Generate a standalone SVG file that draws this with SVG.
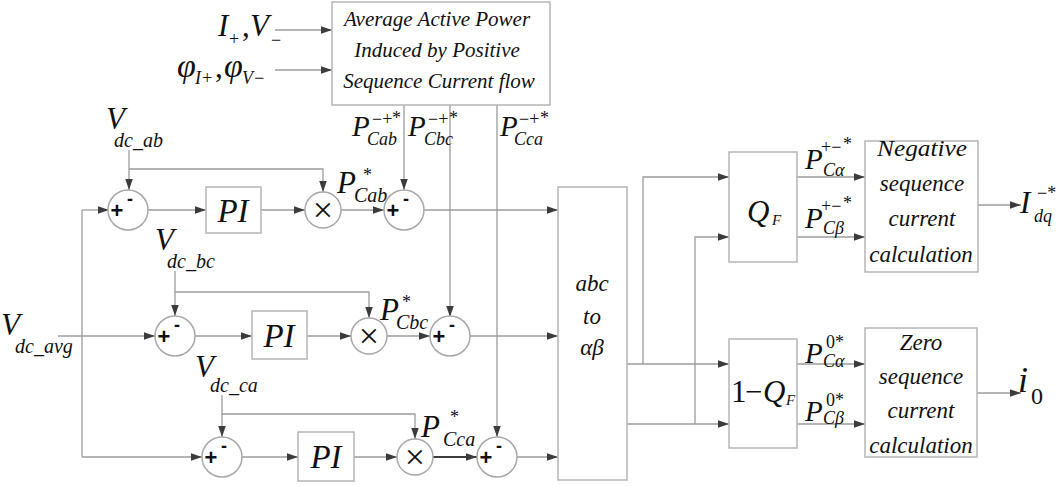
<svg xmlns="http://www.w3.org/2000/svg" width="1059" height="486" viewBox="0 0 1059 486">
<defs>
<marker id="ah" markerWidth="12" markerHeight="8" refX="11" refY="3.75" orient="auto" markerUnits="userSpaceOnUse"><path d="M0,0 L11,3.75 L0,7.5 z" fill="#3c3c3c"/></marker>
<style>
.ln{fill:none;stroke:#9c9c9c;stroke-width:1.3}
.ar{fill:none;stroke:#9c9c9c;stroke-width:1.3;marker-end:url(#ah)}
.thick{fill:none;stroke:#3c3c3c;stroke-width:2.2;marker-end:url(#ah)}
.bx{fill:#fff;stroke:#b5b5b5;stroke-width:1.5}
.cr{fill:#fff;stroke:#a8a8a8;stroke-width:1.5}
.m{font-family:"Liberation Serif",serif;font-style:italic;fill:#111}
.u{font-family:"Liberation Serif",serif;fill:#111}
.s{font-family:"Liberation Sans",sans-serif;fill:#111}
.big{font-size:31px}
.pi{font-size:33px}
.mid{font-size:29px}
.sub{font-size:20px}
.sm{font-size:18px}
.lab{font-size:21px}
.blab{font-size:23px}
.plus{font-family:"Liberation Sans",sans-serif;font-size:22px;font-weight:bold;fill:#111;text-anchor:middle}
.minus{font-family:"Liberation Sans",sans-serif;font-size:18px;font-weight:bold;fill:#111;text-anchor:middle}
.times{font-family:"Liberation Serif",serif;font-size:36px;fill:#111;text-anchor:middle}
.tm{text-anchor:middle}
</style>
</defs>

<g id="connectors">
<path class="ar" d="M275,30 H332"/>
<path class="ar" d="M275,70 H332"/>
<path class="ar" d="M404,105 V190"/>
<path class="ar" d="M450,105 V317"/>
<path class="ar" d="M497,105 V437"/>
<path class="ar" d="M82,210 H109"/>
<path class="ln" d="M82,210 V457"/>
<path class="ar" d="M82,457 H202"/>
<path class="ar" d="M58,336 H155"/>
<path class="ar" d="M129,150 V190"/>
<path class="ar" d="M129,169 H323 V192"/>
<path class="ar" d="M175,271 V316"/>
<path class="ar" d="M175,292 H369 V318"/>
<path class="ar" d="M222,395 V437"/>
<path class="ar" d="M222,414 H415 V439"/>
<path class="ar" d="M148,210 H206"/>
<path class="ar" d="M261,210 H305"/>
<path class="ar" d="M341,210 H384"/>
<path class="ar" d="M424,210 H558"/>
<path class="ar" d="M195,336 H252"/>
<path class="ar" d="M307,336 H351"/>
<path class="ar" d="M387,336 H430"/>
<path class="ar" d="M470,336 H558"/>
<path class="ar" d="M242,457 H298"/>
<path class="ar" d="M354,457 H397"/>
<path class="thick" d="M433,457 H477"/>
<path class="ar" d="M517,457 H558"/>
<path class="ar" d="M627,364 H729"/>
<path class="ar" d="M627,424 H729"/>
<path class="ar" d="M643,364 V177 H729"/>
<path class="ar" d="M695,424 V237 H729"/>
<path class="ar" d="M797,177 H865"/>
<path class="ar" d="M797,237 H865"/>
<path class="ar" d="M797,364 H865"/>
<path class="ar" d="M797,424 H865"/>
<path class="ar" d="M978,205 H1021"/>
<path class="ar" d="M977,393 H1021"/>
</g>

<g id="input-labels">
<text class="m big" x="218" y="36">I</text>
<text class="u sm" x="229" y="45">+</text>
<text class="u big" x="242" y="36">,</text>
<text class="m big" x="250" y="36">V</text>
<text class="u sm" x="271" y="46">−</text>
<text class="m" x="177" y="77" font-size="34">φ</text>
<text class="m sm" x="195" y="84">I+</text>
<text class="u big" x="215" y="77">,</text>
<text class="m" x="224" y="77" font-size="34">φ</text>
<text class="m sm" x="242" y="84">V−</text>
</g>

<g id="avg-power">
<rect class="bx" x="332" y="2" width="218" height="103"/>
<text class="m lab tm" x="437" y="26">Average Active Power</text>
<text class="m lab tm" x="437" y="57">Induced by Positive</text>
<text class="m lab tm" x="439" y="88">Sequence Current  flow</text>
</g>

<g id="top-p-labels">
<text class="m mid" x="352" y="136">P</text><text class="u sm" x="372" y="125">−+</text><text class="u sm" x="392" y="124">*</text><text class="m sm" x="367" y="145">Cab</text>
<text class="m mid" x="408" y="136">P</text><text class="u sm" x="428" y="125">−+</text><text class="u sm" x="449" y="124">*</text><text class="m sm" x="424" y="145">Cbc</text>
<text class="m mid" x="500" y="136">P</text><text class="u sm" x="519" y="125">−+</text><text class="u sm" x="540" y="124">*</text><text class="m sm" x="514" y="145">Cca</text>
</g>

<g id="vdc-labels">
<text class="m big" x="106" y="129">V</text><text class="m sub" x="114" y="147">dc_ab</text>
<text class="m big" x="155" y="250">V</text><text class="m sub" x="167" y="268">dc_bc</text>
<text class="m big" x="195" y="377">V</text><text class="m sub" x="210" y="392">dc_ca</text>
<text class="m big" x="1" y="335">V</text><text class="m sub" x="15" y="353">dc_avg</text>
</g>

<g id="row1">
<g id="sum1"><circle class="cr" cx="128" cy="210" r="20"/><text class="plus" x="117" y="218">+</text><text class="minus" x="130" y="205">-</text></g>
<g id="pi1"><rect class="bx" x="206" y="187" width="55" height="46"/><text class="m pi tm" x="233" y="222">PI</text></g>
<g id="mul1"><circle class="cr" cx="323" cy="210" r="18"/><text class="times" x="323" y="222">×</text></g>
<g id="sum2"><circle class="cr" cx="404" cy="210" r="20"/><text class="plus" x="393" y="218">+</text><text class="minus" x="406" y="205">-</text></g>
<text class="m big" x="337" y="193">P</text><text class="u sm" x="363" y="181">*</text><text class="m sub" x="354" y="202">Cab</text>
</g>

<g id="row2">
<g id="sum3"><circle class="cr" cx="175" cy="336" r="20"/><text class="plus" x="164" y="344">+</text><text class="minus" x="177" y="331">-</text></g>
<g id="pi2"><rect class="bx" x="252" y="311" width="55" height="48"/><text class="m pi tm" x="279" y="347">PI</text></g>
<g id="mul2"><circle class="cr" cx="369" cy="336" r="18"/><text class="times" x="369" y="348">×</text></g>
<g id="sum4"><circle class="cr" cx="450" cy="336" r="20"/><text class="plus" x="439" y="344">+</text><text class="minus" x="452" y="331">-</text></g>
<text class="m big" x="380" y="320">P</text><text class="u sm" x="402" y="308">*</text><text class="m sub" x="396" y="329">Cbc</text>
</g>

<g id="row3">
<g id="sum5"><circle class="cr" cx="222" cy="457" r="20"/><text class="plus" x="211" y="465">+</text><text class="minus" x="224" y="452">-</text></g>
<g id="pi3"><rect class="bx" x="298" y="432" width="56" height="49"/><text class="m pi tm" x="326" y="468">PI</text></g>
<g id="mul3"><circle class="cr" cx="415" cy="457" r="18"/><text class="times" x="415" y="469">×</text></g>
<g id="sum6"><circle class="cr" cx="497" cy="457" r="20"/><text class="plus" x="486" y="465">+</text><text class="minus" x="499" y="452">-</text></g>
<text class="m big" x="421" y="437">P</text><text class="u sm" x="450" y="423">*</text><text class="m sub" x="443" y="446">Cca</text>
</g>

<g id="abc-ab">
<rect class="bx" x="558" y="187" width="69" height="293"/>
<text class="m blab tm" x="592" y="291">abc</text>
<text class="m blab tm" x="592" y="324">to</text>
<text class="m blab tm" x="592" y="355">αβ</text>
</g>

<g id="qf">
<rect class="bx" x="729" y="152" width="68" height="110"/>
<text class="m big" x="747" y="222">Q</text><text class="m" x="772" y="225" font-size="15">F</text>
</g>

<g id="one-minus-qf">
<rect class="bx" x="729" y="339" width="68" height="109"/>
<text class="u big" x="731" y="402">1</text><text class="u big" x="745" y="402">−</text><text class="m big" x="763" y="402">Q</text><text class="m" x="786" y="405" font-size="15">F</text>
</g>

<g id="p-right-labels">
<text class="m mid" x="805" y="169">P</text><text class="u sm" x="821" y="153">+−</text><text class="u sm" x="843" y="150">*</text><text class="m sm" x="823" y="176">Cα</text>
<text class="m mid" x="805" y="228">P</text><text class="u sm" x="821" y="212">+−</text><text class="u sm" x="843" y="209">*</text><text class="m sm" x="823" y="234">Cβ</text>
<text class="m mid" x="805" y="363">P</text><text class="u sm" x="826" y="348">0*</text><text class="m sm" x="823" y="367">Cα</text>
<text class="m mid" x="805" y="421">P</text><text class="u sm" x="826" y="406">0*</text><text class="m sm" x="823" y="424">Cβ</text>
</g>

<g id="neg-seq">
<rect class="bx" x="865" y="141" width="113" height="131"/>
<text class="m blab tm" x="922" y="156" textLength="90" lengthAdjust="spacingAndGlyphs">Negative</text>
<text class="m blab tm" x="922" y="191">sequence</text>
<text class="m blab tm" x="922" y="226">current</text>
<text class="m blab tm" x="921" y="262">calculation</text>
</g>

<g id="zero-seq">
<rect class="bx" x="865" y="328" width="112" height="129"/>
<text class="m blab tm" x="921" y="350">Zero</text>
<text class="m blab tm" x="921" y="384">sequence</text>
<text class="m blab tm" x="921" y="418">current</text>
<text class="m blab tm" x="921" y="453">calculation</text>
</g>

<g id="outputs">
<text class="m big" x="1020" y="213">I</text><text class="u sm" x="1037" y="199">−*</text><text class="m sm" x="1034" y="222">dq</text>
<text class="m" x="1018" y="392" font-size="36">i</text><text class="u" x="1031" y="404" font-size="24">0</text>
</g>
</svg>
